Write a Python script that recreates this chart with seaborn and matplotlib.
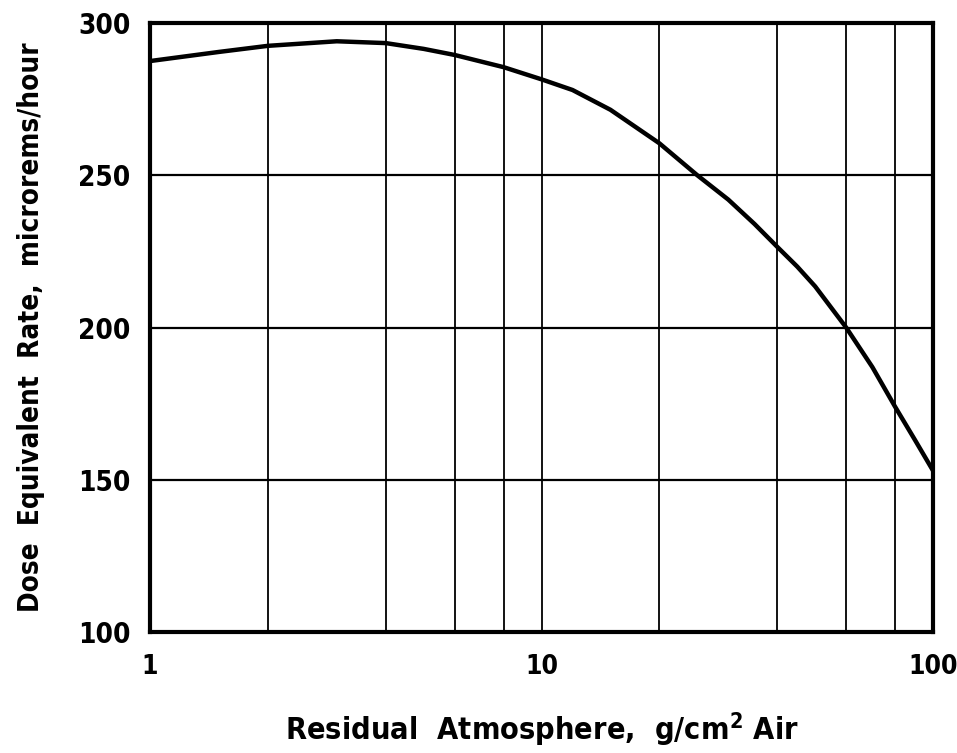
import matplotlib
matplotlib.use("Agg")
import matplotlib.pyplot as plt
import seaborn as sns
import pandas as pd
from matplotlib.ticker import FixedLocator, NullFormatter, FixedFormatter

# data
residual_atm = [1, 1.5, 2, 3, 4, 5, 6, 8, 10, 12, 15, 20, 25, 30, 35, 40, 45, 50, 60, 70, 80, 90, 100]
dose_rate = [287.5, 290.5, 292.5, 294, 293.4, 291.5, 289.5, 285.5, 281.5, 278, 271.5, 260.5, 250,
             242, 234, 226.5, 220, 213.5, 200, 187, 174, 163, 153]
x_ticks = [1, 10, 100]
x_tick_labels = ["1", "10", "100"]
x_grid = [2, 4, 6, 8, 10, 20, 40, 60, 80]
y_ticks = [100, 150, 200, 250, 300]

sns.set_theme(style="white")
plt.rcParams['font.family'] = ['DejaVu Sans']
plt.rcParams['font.stretch'] = 'condensed'
plt.rcParams['text.color'] = 'black'
plt.rcParams['axes.labelcolor'] = 'black'
plt.rcParams['xtick.color'] = 'black'
plt.rcParams['ytick.color'] = 'black'

df = pd.DataFrame({"x": residual_atm, "y": dose_rate})

fig = plt.figure(figsize=(9.57, 7.53), dpi=100)
ax = fig.add_axes([150/957, 1 - 632/753, (933-150)/957, (632-23)/753])

for gx in x_grid:
    ax.axvline(gx, color="black", lw=1.3, zorder=1)
for gy in y_ticks[1:-1]:
    ax.axhline(gy, color="black", lw=1.6, zorder=1)

sns.lineplot(data=df, x="x", y="y", ax=ax, color="black", lw=3.2, zorder=3)

ax.set_xscale("log")
ax.set_xlim(1, 100)
ax.set_ylim(100, 300)
ax.xaxis.set_major_locator(FixedLocator(x_ticks))
ax.xaxis.set_major_formatter(FixedFormatter(x_tick_labels))
ax.xaxis.set_minor_locator(FixedLocator([]))
ax.xaxis.set_minor_formatter(NullFormatter())
ax.set_yticks(y_ticks)
ax.set_yticklabels([str(v) for v in y_ticks])
ax.tick_params(axis="y", length=0, labelsize=20, pad=14)
ax.tick_params(axis="x", length=0, labelsize=19, pad=16)
for lab in ax.get_xticklabels() + ax.get_yticklabels():
    lab.set_fontweight("bold")
    lab.set_fontstretch("condensed")

for s in ax.spines.values():
    s.set_visible(True)
    s.set_color("black")
    s.set_linewidth(3)

ax.set_xlabel("Residual  Atmosphere,  g/cm$^\\mathbf{2}$ Air", fontsize=22, fontweight="bold",
              fontstretch="condensed", labelpad=22)
ax.set_ylabel("Dose  Equivalent  Rate,  microrems/hour", fontsize=20, fontweight="bold",
              fontstretch="condensed", labelpad=24)

fig.savefig("out.png", dpi=100)
